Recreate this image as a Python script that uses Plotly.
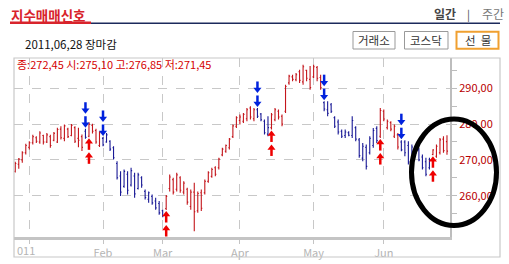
import plotly.graph_objects as go

# ---------------- data ----------------
first_day_index = -4          # four trading days of late Dec 2010 precede Jan 3, 2011
open_ = [266.8, 268.8, 270.0, 272.0, 273.5, 274.8, 276.2, 275.0, 276.8, 275.0,
         276.5, 275.5, 275.0, 278.6, 276.0, 278.6, 276.8, 279.0, 276.0, 276.5,
         278.0, 276.6, 279.6, 278.2, 274.0, 276.0, 275.0, 275.2, 273.4, 269.0,
         265.5, 262.6, 266.0, 263.0, 265.5, 262.0, 265.0, 261.2, 259.0, 259.8,
         258.5, 257.8, 255.8, 256.4, 262.0, 264.5, 261.8, 265.0, 261.0, 261.8,
         257.0, 261.0, 255.8, 260.8, 260.8, 264.0, 265.4, 267.8, 267.8, 271.4,
         272.4, 273.4, 276.5, 279.4, 281.0, 280.8, 281.5, 284.5, 281.5, 284.0,
         282.8, 280.8, 277.2, 279.0, 281.2, 283.6, 282.2, 283.6, 291.5, 293.2,
         292.4, 294.6, 291.8, 295.0, 292.5, 293.2, 295.8, 293.0, 286.0, 284.0,
         285.4, 281.8, 280.6, 278.0, 276.8, 277.6, 276.8, 279.0, 275.6, 270.5,
         273.5, 272.0, 274.0, 278.8, 276.6, 283.6, 279.0, 280.4, 276.6, 277.0,
         275.0, 275.0, 274.0, 270.0, 273.0, 272.8, 270.8, 269.5, 267.8, 271.5,
         271.0, 272.0, 275.8, 275.10]
high = [269.5, 270.5, 272.4, 274.5, 275.2, 277.0, 276.6, 278.0, 277.0, 277.5,
        277.0, 277.8, 279.0, 279.4, 279.9, 279.0, 280.0, 279.4, 279.0, 277.1,
        278.7, 280.5, 280.1, 278.7, 278.0, 276.4, 277.5, 275.5, 273.8, 269.6,
        266.8, 267.3, 266.8, 267.8, 266.4, 266.4, 265.4, 261.7, 261.2, 260.3,
        259.4, 258.5, 256.1, 260.2, 265.9, 265.0, 266.4, 265.4, 264.0, 262.2,
        261.7, 263.6, 261.2, 261.7, 264.5, 266.8, 267.8, 268.2, 270.6, 273.4,
        274.3, 276.1, 279.9, 282.2, 282.7, 283.1, 284.5, 285.0, 284.5, 284.5,
        283.1, 281.3, 282.2, 283.1, 284.5, 284.1, 282.7, 291.0, 293.8, 293.8,
        294.3, 295.2, 296.6, 295.2, 296.2, 296.6, 296.2, 293.8, 286.4, 286.4,
        285.9, 282.2, 281.3, 278.5, 278.5, 278.0, 282.2, 279.4, 276.1, 274.7,
        274.3, 276.6, 278.9, 279.4, 284.5, 284.1, 281.3, 280.8, 279.9, 277.5,
        275.5, 275.5, 275.2, 274.3, 273.4, 273.4, 271.5, 270.6, 270.6, 273.0,
        274.3, 276.1, 276.6, 276.85]
low = [266.5, 267.5, 269.2, 271.5, 272.9, 274.3, 274.7, 274.5, 274.3, 274.7,
       273.4, 275.2, 274.7, 275.7, 275.2, 276.1, 276.6, 274.7, 273.5, 272.5,
       275.9, 276.3, 277.4, 274.5, 273.6, 273.8, 274.8, 272.5, 270.1, 264.5,
       259.9, 262.2, 260.3, 262.6, 259.4, 261.7, 262.2, 258.9, 258.0, 257.5,
       256.1, 254.7, 254.0, 256.0, 261.2, 260.3, 261.2, 260.8, 260.3, 257.5,
       256.1, 250.1, 255.2, 255.7, 260.3, 263.6, 265.0, 265.4, 267.3, 271.0,
       272.0, 272.9, 276.1, 278.9, 279.9, 280.3, 280.8, 281.3, 280.8, 281.7,
       280.8, 277.1, 276.6, 278.5, 280.8, 281.3, 279.4, 283.1, 291.0, 292.0,
       292.0, 291.5, 291.0, 292.0, 289.6, 292.9, 292.0, 289.6, 283.6, 282.2,
       283.1, 278.9, 277.1, 276.1, 276.1, 276.6, 276.1, 275.2, 270.6, 269.6,
       267.3, 271.5, 273.4, 274.7, 276.1, 280.8, 278.5, 278.0, 276.1, 272.9,
       272.4, 271.0, 268.7, 269.6, 271.5, 269.6, 267.3, 265.4, 267.3, 271.3,
       270.6, 271.5, 272.0, 271.45]
close = [269.0, 270.2, 272.0, 274.0, 274.8, 276.5, 275.2, 277.5, 275.0, 277.0,
         274.0, 277.4, 278.5, 276.2, 279.5, 276.5, 279.6, 275.2, 275.5, 273.5,
         276.3, 280.0, 278.0, 275.0, 277.6, 274.2, 277.0, 273.0, 270.6, 265.0,
         261.0, 266.8, 261.5, 267.0, 260.5, 265.8, 263.0, 259.5, 260.8, 258.0,
         256.6, 255.2, 254.4, 259.8, 265.2, 261.0, 265.8, 261.5, 263.5, 258.2,
         261.0, 255.5, 260.6, 256.5, 264.0, 266.4, 267.3, 266.0, 270.2, 273.0,
         274.0, 275.8, 279.5, 281.8, 282.0, 282.7, 284.0, 282.0, 284.0, 282.2,
         281.2, 277.6, 279.0, 282.6, 284.0, 282.0, 280.0, 290.5, 293.4, 292.5,
         293.8, 292.2, 296.0, 292.8, 290.2, 296.0, 292.8, 290.2, 284.2, 283.0,
         283.6, 279.4, 277.8, 276.6, 277.8, 276.9, 281.0, 275.8, 271.2, 273.8,
         268.2, 276.0, 278.2, 275.4, 283.8, 281.4, 280.8, 278.6, 279.4, 273.6,
         272.8, 272.0, 269.4, 273.6, 271.8, 270.0, 267.8, 266.0, 270.0, 272.8,
         273.8, 275.6, 272.6, 272.45]

sell_signals = [16, 21, 65, 84, 106]     # blue down arrows (day index)
buy_signals = [17, 39, 69, 100, 115]     # red up arrows (day index)

month_ticks = [0, 21, 38, 60, 81, 101]
month_labels = ["", "Feb", "Mar", "Apr", "May", "Jun"]
y_ticks = [260, 270, 280, 290]

title_text = "지수매매신호"
date_text = "2011,06,28 장마감"
quote_text = "종:272,45 시:275,10 고:276,85 저:271,45"
buttons = ["거래소", "코스닥", "선  물"]

# ---------------- styles / layout constants ----------------
W, H = 509, 264
PL, PR, PT, PB = 14, 450, 58, 237
Y_RANGE = [248.46, 298.46]
X_RANGE = [-4.36, 119.86]
RED_BAR, BLUE_BAR = "#c4161c", "#1a1a96"
RED_ARR, BLUE_ARR = "#ee0000", "#0022dd"
GRID = "#c8c8c8"
FONT = "Noto Sans CJK KR, Noto Sans, sans-serif"

u = (Y_RANGE[1] - Y_RANGE[0]) / (PB - PT)   # data units per pixel (y)

x = [first_day_index + k for k in range(len(close))]

# regime colouring: red after a buy signal, blue after a sell signal
regime = []
state = "red"
for xi in x:
    if xi in sell_signals:
        state = "blue"
    if xi in buy_signals:
        state = "red"
    regime.append(state)


def subset(name):
    idx = [k for k in range(len(x)) if regime[k] == name]
    return ([x[k] for k in idx], [open_[k] for k in idx], [high[k] for k in idx],
            [low[k] for k in idx], [close[k] for k in idx])


fig = go.Figure()
for name, colr in (("red", RED_BAR), ("blue", BLUE_BAR)):
    xs, o, h, l, c = subset(name)
    fig.add_trace(go.Ohlc(x=xs, open=o, high=h, low=l, close=c, tickwidth=0.3,
                          increasing=dict(line=dict(color=colr, width=1.1)),
                          decreasing=dict(line=dict(color=colr, width=1.1)),
                          hoverinfo="skip", showlegend=False))

# arrows: triangle head + thick stem, two stacked per signal
R = 3.0
heads_x, heads_y, stems_x, stems_y = [], [], [], []
for s in sell_signals:
    k = x.index(s)
    for n in range(2):
        tip = high[k] + (1.5 + n * 14) * u
        heads_x.append(s); heads_y.append(tip + R * u)
        stems_x += [s, s, None]; stems_y += [tip + 4.2 * u, tip + 11 * u, None]
fig.add_trace(go.Scatter(x=stems_x, y=stems_y, mode="lines",
                         line=dict(color=BLUE_ARR, width=2.5), hoverinfo="skip", showlegend=False))
fig.add_trace(go.Scatter(x=heads_x, y=heads_y, mode="markers", cliponaxis=False,
                         marker=dict(symbol="triangle-down", size=7, color=BLUE_ARR),
                         hoverinfo="skip", showlegend=False))
heads_x, heads_y, stems_x, stems_y = [], [], [], []
for s in buy_signals:
    k = x.index(s)
    for n in range(2):
        tip = low[k] - (1.5 + n * 14) * u
        heads_x.append(s); heads_y.append(tip - R * u)
        stems_x += [s, s, None]; stems_y += [tip - 4.2 * u, tip - 11 * u, None]
fig.add_trace(go.Scatter(x=stems_x, y=stems_y, mode="lines",
                         line=dict(color=RED_ARR, width=2.5), hoverinfo="skip", showlegend=False))
fig.add_trace(go.Scatter(x=heads_x, y=heads_y, mode="markers", cliponaxis=False,
                         marker=dict(symbol="triangle-up", size=7, color=RED_ARR),
                         hoverinfo="skip", showlegend=False))


def px(xp):
    return (xp - PL) / (PR - PL)


def py(yp):
    return (PB - yp) / (PB - PT)


shapes = [
    dict(type="rect", xref="paper", yref="paper", x0=px(14), x1=px(500), y0=py(257), y1=py(58),
         line=dict(color="#c8c8c8", width=1.2)),
    dict(type="line", xref="paper", yref="paper", x0=px(10), x1=px(500), y0=py(23.3), y1=py(23.3),
         line=dict(color="#1c2a5c", width=1.6)),
    dict(type="line", xref="paper", yref="paper", x0=px(10), x1=px(91), y0=py(22.8), y1=py(22.8),
         line=dict(color="#d8242c", width=2.4)),
    dict(type="rect", xref="paper", yref="paper", x0=px(353), x1=px(395), y0=py(49), y1=py(31.5),
         line=dict(color="#999999", width=1)),
    dict(type="rect", xref="paper", yref="paper", x0=px(404.5), x1=px(448), y0=py(49), y1=py(31.5),
         line=dict(color="#999999", width=1)),
    dict(type="rect", xref="paper", yref="paper", x0=px(456.5), x1=px(498.5), y0=py(48.8), y1=py(31.8),
         line=dict(color="#f0a030", width=2)),
    dict(type="circle", xref="paper", yref="paper", x0=px(411.5), x1=px(496.5), y0=py(225.5), y1=py(119),
         line=dict(color="black", width=5)),
]

ann = [
    dict(text="<b>" + title_text + "</b>", x=px(9), y=py(15), xanchor="left", yanchor="middle",
         font=dict(size=13.5, color="#d8242c")),
    dict(text="<b>일간</b>", x=px(458), y=py(13.5), xanchor="right", yanchor="middle",
         font=dict(size=12, color="#444444")),
    dict(text="|", x=px(468.5), y=py(13.5), xanchor="center", yanchor="middle",
         font=dict(size=11, color="#444444")),
    dict(text="주간", x=px(480), y=py(13.5), xanchor="left", yanchor="middle",
         font=dict(size=12, color="#777777")),
    dict(text=date_text, x=px(23), y=py(44), xanchor="left", yanchor="middle",
         font=dict(size=11.5, color="#111111")),
    dict(text=buttons[0], x=px(374), y=py(40.2), xanchor="center", yanchor="middle",
         font=dict(size=11.5, color="#333333")),
    dict(text=buttons[1], x=px(426.2), y=py(40.2), xanchor="center", yanchor="middle",
         font=dict(size=11.5, color="#333333")),
    dict(text=buttons[2], x=px(477.5), y=py(40.2), xanchor="center", yanchor="middle",
         font=dict(size=11.5, color="#333333")),
    dict(text=quote_text, x=px(14.5), y=py(64), xanchor="left", yanchor="middle",
         font=dict(size=11, color="#d40000")),
    dict(text="011", x=px(15), y=py(250), xanchor="left", yanchor="middle",
         font=dict(size=11, color="#b4b4b4")),
]
for a in ann:
    a.update(xref="paper", yref="paper", showarrow=False)
    a["font"]["family"] = FONT

fig.update_layout(
    width=W, height=H,
    margin=dict(l=PL, r=W - PR, t=PT, b=H - PB, pad=0, autoexpand=False),
    paper_bgcolor="white", plot_bgcolor="white",
    separators=", ",
    font=dict(family=FONT, size=11),
    shapes=shapes, annotations=ann,
    xaxis=dict(range=X_RANGE, rangeslider=dict(visible=False), tickmode="array",
               tickvals=month_ticks, ticktext=month_labels, automargin=False,
               showgrid=True, gridcolor=GRID, griddash="dash", gridwidth=1,
               showline=True, linecolor="#c4c4c4", linewidth=3,
               ticks="outside", ticklen=4, tickcolor="#c4c4c4",
               tickfont=dict(size=11, color="#b4b4b4"), zeroline=False, fixedrange=True),
    yaxis=dict(range=Y_RANGE, side="right", tickmode="array", tickvals=y_ticks,
               tickformat=".2f", showgrid=True, gridcolor=GRID, griddash="dash", gridwidth=1,
               showline=True, linecolor="#bdbdbd", linewidth=2, automargin=False,
               ticks="outside", ticklen=5, tickcolor="#bdbdbd",
               minor=dict(tickvals=[255, 265, 275, 285, 295], ticks="outside", ticklen=5,
                          tickcolor="#bdbdbd", showgrid=False),
               tickfont=dict(size=11, color="#b80000"), zeroline=False, fixedrange=True),
    showlegend=False,
)

fig.write_html("out.html")
